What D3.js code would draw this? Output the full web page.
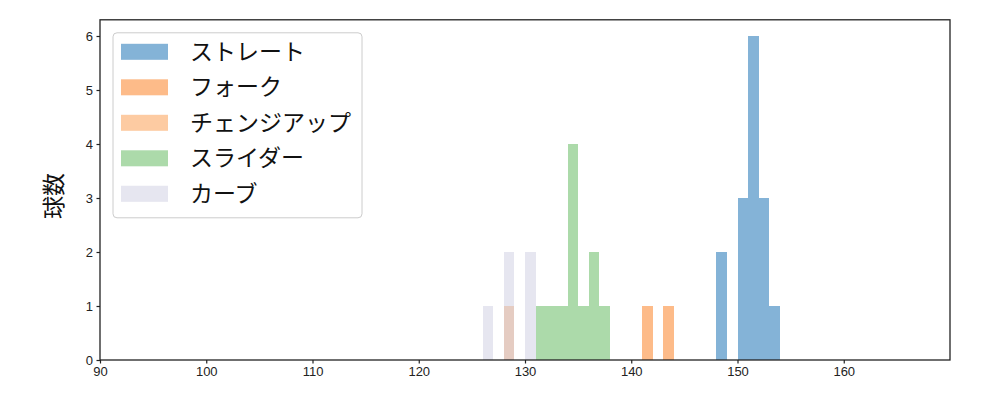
<!DOCTYPE html>
<html>
<head>
<meta charset="utf-8">
<script src="https://cdn.jsdelivr.net/npm/d3@7"></script>
<style>
  body { margin: 0; background: #fff; }
  svg { font-family: "Noto Sans CJK JP", "DejaVu Sans", sans-serif; }
</style>
</head>
<body>
<svg id="chart" width="1000" height="400"></svg>
<script>
// pitch types (legend order)
var pitchTypes = ["ストレート", "フォーク", "チェンジアップ", "スライダー", "カーブ"]
var pitchColors = ["#0967af", "#fb7713", "#fb9745", "#59b555", "#cdcde1"]

// histogram bins per pitch type: left edge (km/h) and count, bin width 1
var straightBins = [148, 149, 150, 151, 152, 153]
var straightCounts = [2, 0, 3, 6, 3, 1]
var forkBins = [141, 142, 143]
var forkCounts = [1, 0, 1]
var changeupBins = [128]
var changeupCounts = [1]
var sliderBins = [131, 132, 133, 134, 135, 136, 137]
var sliderCounts = [1, 1, 1, 4, 1, 2, 1]
var curveBins = [126, 127, 128, 129, 130]
var curveCounts = [1, 0, 2, 0, 2]

var xTicks = [90, 100, 110, 120, 130, 140, 150, 160]
var yTicks = [0, 1, 2, 3, 4, 5, 6]

var margin = {top: 19.8, right: 50, bottom: 40, left: 100},
    width = 1000 - margin.left - margin.right,
    height = 400 - margin.top - margin.bottom;

var svg = d3.select("#chart")
    .append("g")
    .attr("transform", "translate(" + margin.left + "," + margin.top + ")");

var x = d3.scaleLinear().domain([90, 170]).range([0, width])
var y = d3.scaleLinear().domain([0, 6.3]).range([height, 0])

var series = [
    {bins: straightBins, counts: straightCounts},
    {bins: forkBins, counts: forkCounts},
    {bins: changeupBins, counts: changeupCounts},
    {bins: sliderBins, counts: sliderCounts},
    {bins: curveBins, counts: curveCounts}
]

series.forEach(function(s, i) {
    var data = s.bins.map(function(b, j) { return {x0: b, x1: b + 1, n: s.counts[j]} })
        .filter(function(d) { return d.n > 0 })
    svg.append("g")
        .attr("shape-rendering", "crispEdges")
        .selectAll("rect")
        .data(data)
        .enter().append("rect")
        .attr("x", d => x(d.x0))
        .attr("width", d => x(d.x1) - x(d.x0))
        .attr("y", d => y(d.n))
        .attr("height", d => y(0) - y(d.n))
        .attr("fill", pitchColors[i])
        .attr("fill-opacity", 0.5)
})

// axes
var xAxis = svg.append("g")
    .attr("transform", "translate(0," + height + ")")
    .call(d3.axisBottom(x).tickValues(xTicks).tickSize(3.5).tickPadding(3.5).tickSizeOuter(0))
var yAxis = svg.append("g")
    .call(d3.axisLeft(y).tickValues(yTicks).tickFormat(d3.format("d")).tickSize(3.5).tickPadding(3.5).tickSizeOuter(0))
;[xAxis, yAxis].forEach(function(a) {
    a.select(".domain").remove()
    a.selectAll("line").attr("stroke", "#222").attr("stroke-width", 1.2)
    a.selectAll("text").attr("fill", "#222").style("font-size", "13px")
})

// frame
svg.append("rect")
    .attr("width", width).attr("height", height)
    .attr("fill", "none").attr("stroke", "#222").attr("stroke-width", 1.3)

// y label
svg.append("text")
    .attr("transform", "translate(-38," + (height / 2 + 6) + ") rotate(-90)")
    .attr("text-anchor", "middle")
    .style("font-size", "23px")
    .attr("fill", "#111")
    .text("球数")

// legend
var legend = svg.append("g").attr("transform", "translate(13,13)")
legend.append("rect")
    .attr("width", 249).attr("height", 185).attr("rx", 4)
    .attr("fill", "#fff").attr("fill-opacity", 0.8)
    .attr("stroke", "#ccc").attr("stroke-width", 1)
var item = legend.selectAll(".item")
    .data(pitchTypes)
    .enter().append("g")
    .attr("transform", (d, i) => "translate(0," + (19 + i * 35.5) + ")")
item.append("rect")
    .attr("x", 8).attr("y", -8).attr("width", 47).attr("height", 16)
    .attr("fill", (d, i) => pitchColors[i]).attr("fill-opacity", 0.5)
item.append("text")
    .attr("x", 77).attr("y", 0).attr("dy", "0.35em")
    .style("font-size", "23px")
    .attr("fill", "#111")
    .text(d => d)
</script>
</body>
</html>
